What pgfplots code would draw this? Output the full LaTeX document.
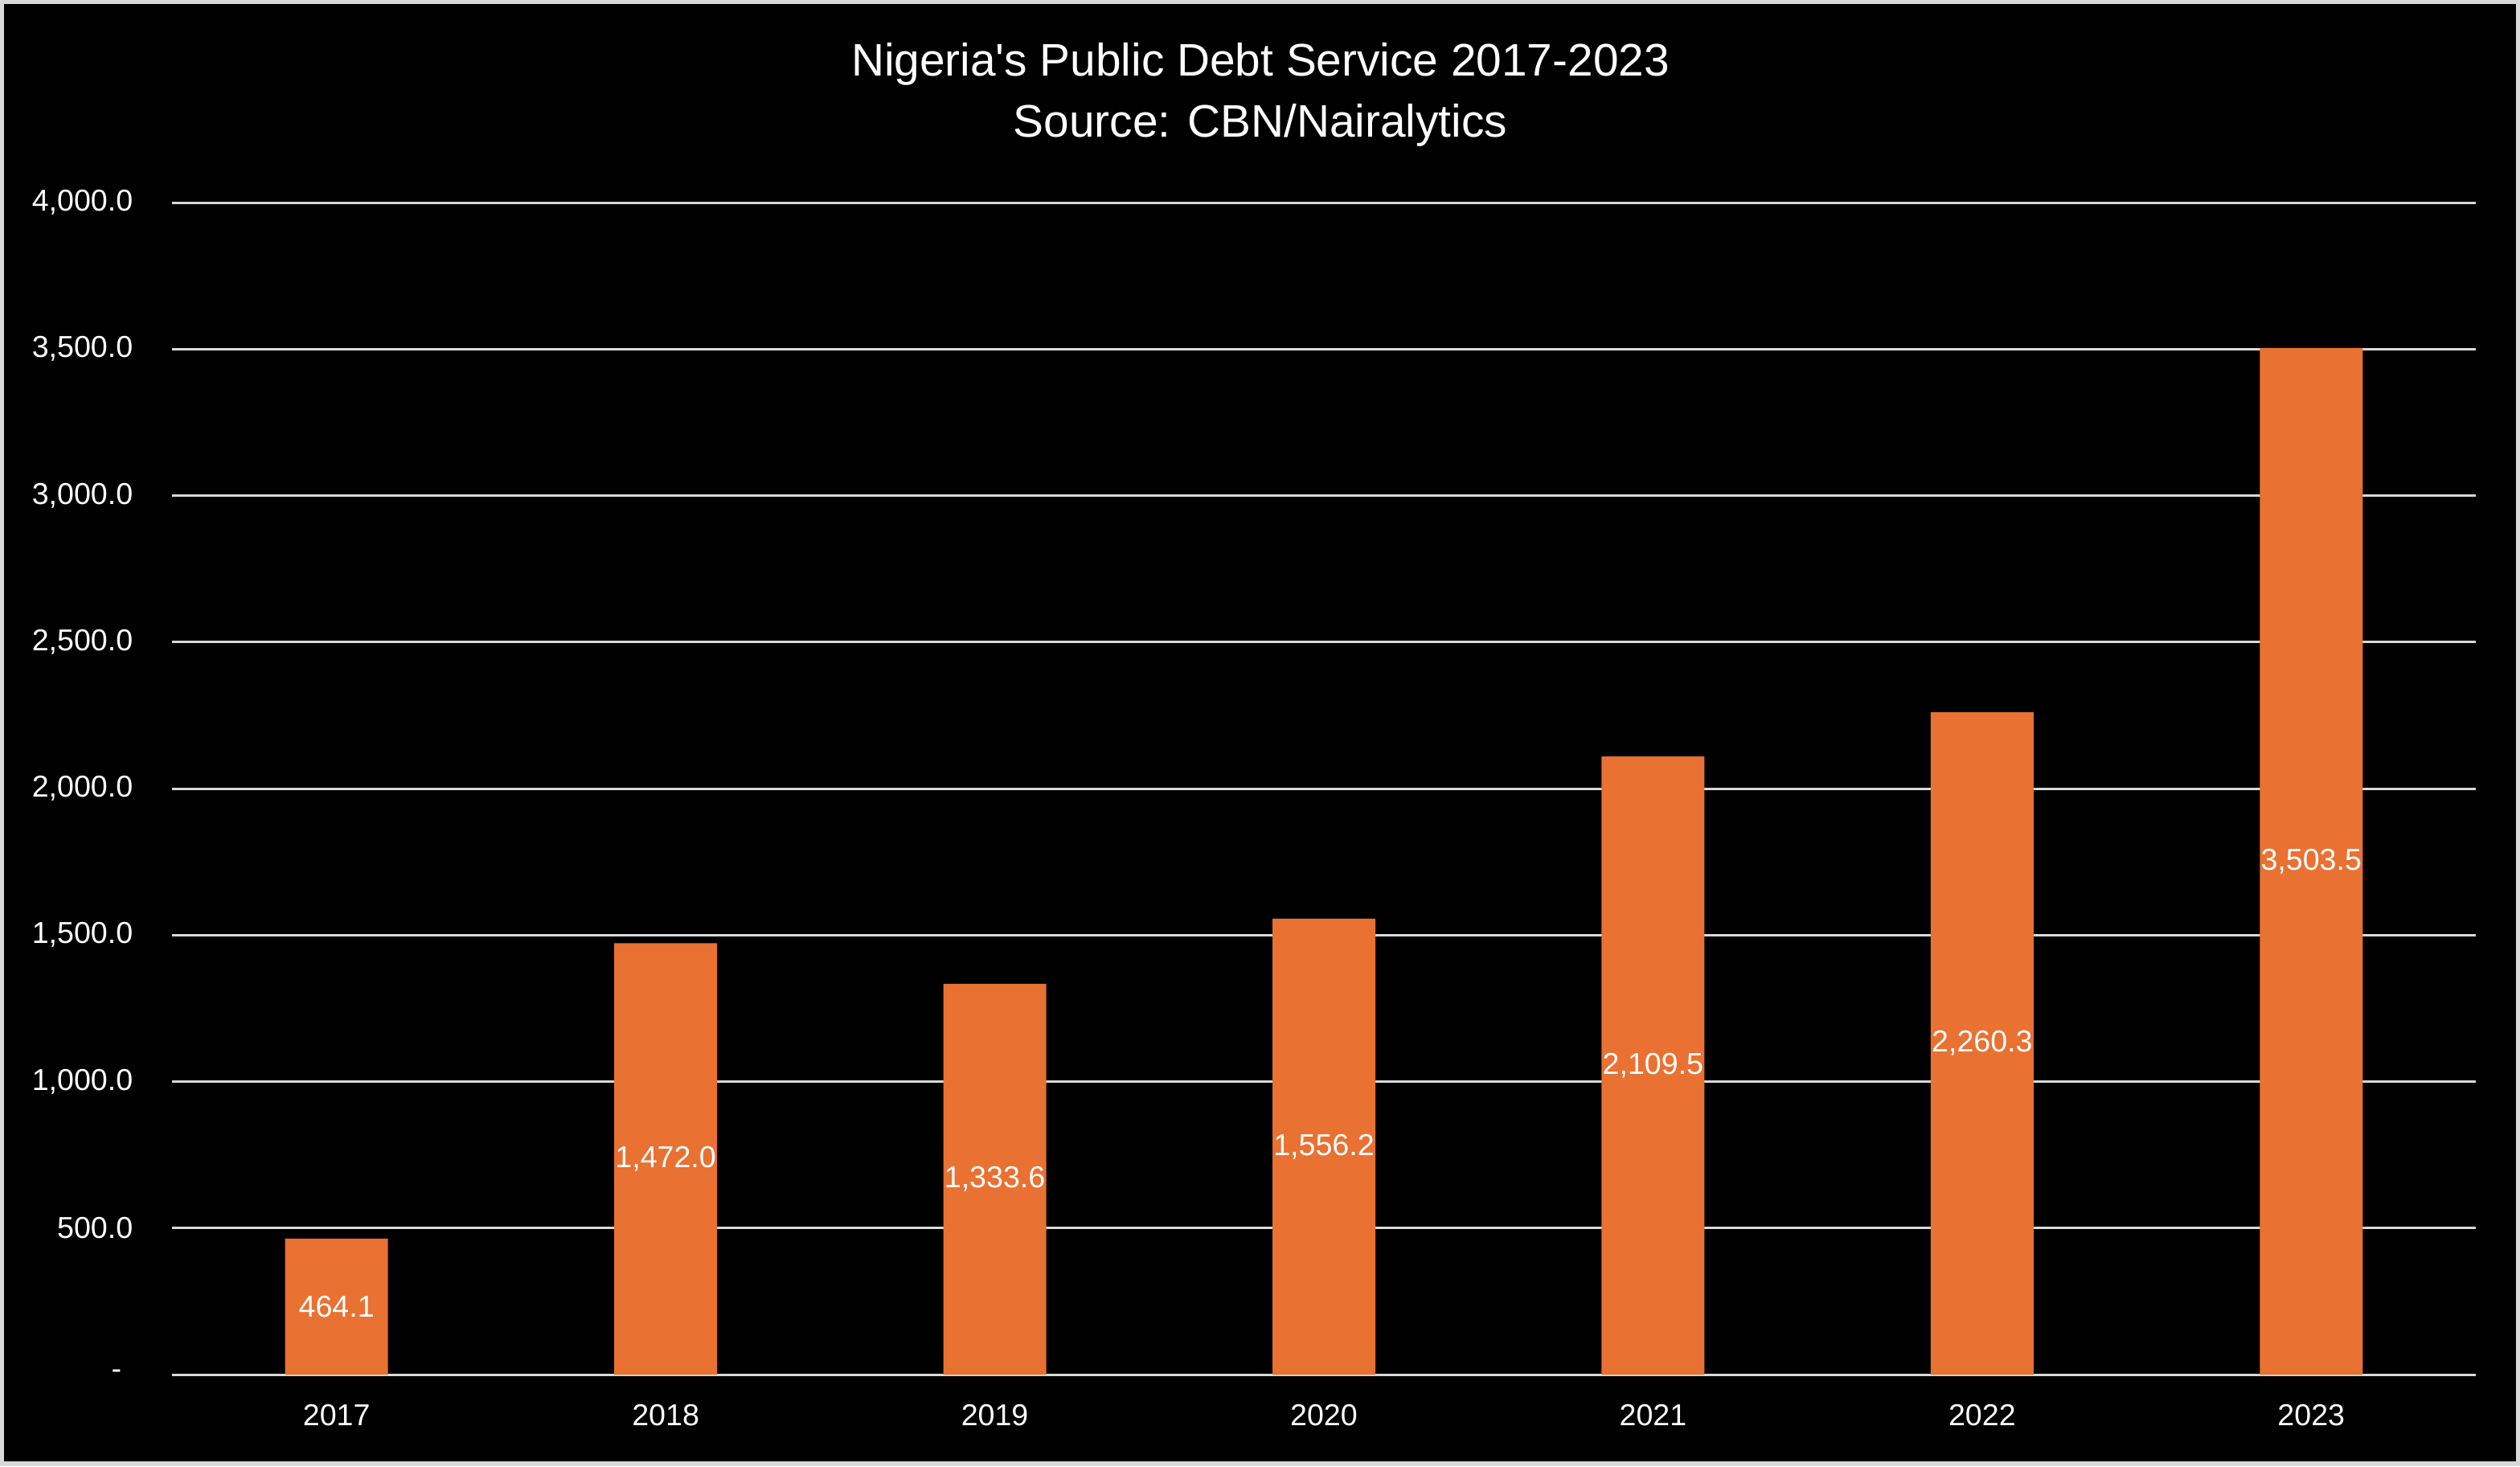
\documentclass[border=0pt]{standalone}
\usepackage{fontspec}
\setmainfont{Liberation Sans}
\usepackage{pgfplots}
\pgfplotsset{compat=1.18}
\usepackage{pgfplotstable}
\definecolor{barorange}{HTML}{E97132}
\definecolor{gridgray}{HTML}{D9D9D9}
\definecolor{framegray}{HTML}{D9D9D9}

\pgfplotstableread{
x year value
0 2017 464.1
1 2018 1472.0
2 2019 1333.6
3 2020 1556.2
4 2021 2109.5
5 2022 2260.3
6 2023 3503.5
}\debt

\begin{document}
\begin{tikzpicture}
\fill[framegray] (0,0) rectangle (783.75pt,456pt);
\fill[black] (1.25pt,1.5pt) rectangle (782.5pt,454.75pt);
\node[white, font=\fontsize{14.2}{17}\selectfont] at (392pt,436pt) {Nigeria\textquotesingle s Public Debt Service 2017-2023};
\node[white, font=\fontsize{14.2}{17}\selectfont] at (392pt,417pt) {Source: CBN/Nairalytics};
\begin{axis}[
  at={(53.5pt,28.5pt)}, anchor=south west,
  scale only axis, width=716.5pt, height=364.5pt,
  xmin=-0.5, xmax=6.5, ymin=0, ymax=4000,
  axis line style={draw=none},
  major tick length=0pt,
  ymajorgrids,
  grid style={gridgray, line width=0.75pt},
  xtick=data,
  xticklabels from table={\debt}{year},
  ytick={0,500,...,4000},
  yticklabels={{-\rule{3.5pt}{0pt}},{500.0},{1,000.0},{1,500.0},{2,000.0},{2,500.0},{3,000.0},{3,500.0},{4,000.0}},
  tick label style={white, font=\fontsize{9.4}{11}\selectfont},
  yticklabel style={anchor=east, inner sep=0pt, xshift=-12pt},
  xticklabel style={anchor=north, inner sep=0pt, yshift=-9pt},
  /pgf/number format/assume math mode=true,
]
\addplot[ybar, bar width=32pt, fill=barorange, draw=none] table[x=x, y=value] {\debt};
\addplot[draw=none, mark=none,
  nodes near coords={\pgfmathprintnumber[fixed, fixed zerofill, precision=1, 1000 sep={,}, assume math mode=true]{\pgfplotspointmeta}},
  nodes near coords align=center,
  every node near coord/.style={anchor=center, inner sep=0pt, white, font=\fontsize{9.4}{11}\selectfont},
  point meta=\thisrow{value}]
  table[x=x, y expr=\thisrow{value}/2] {\debt};
\end{axis}
\end{tikzpicture}
\end{document}
